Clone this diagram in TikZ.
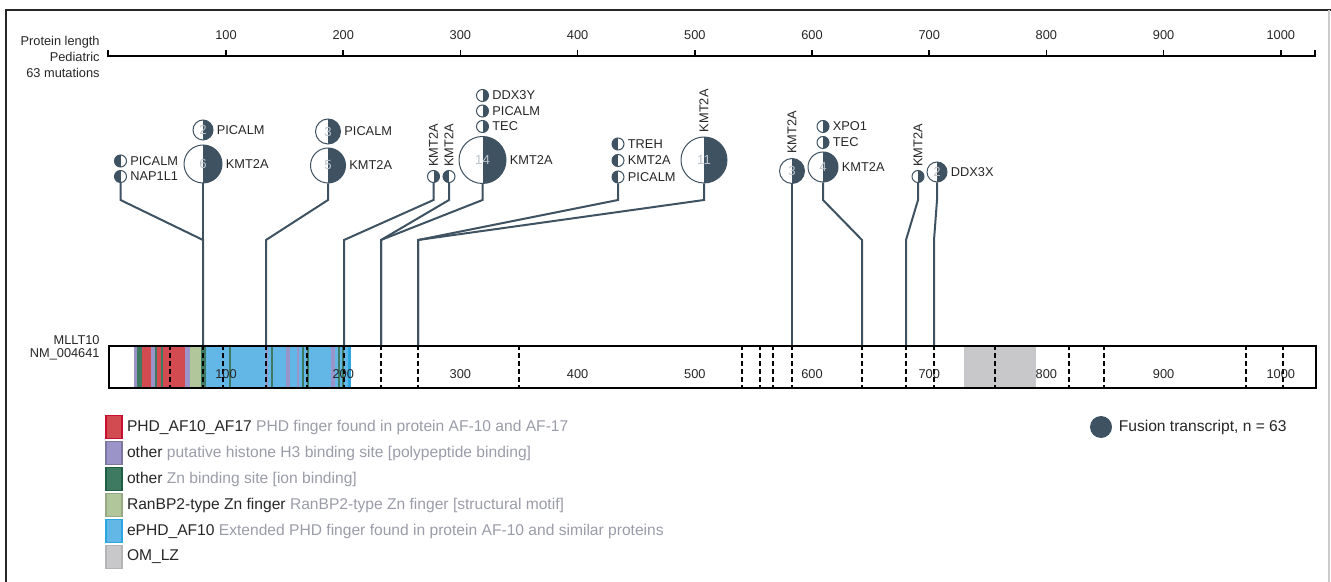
\documentclass[tikz,border=0pt]{standalone}
\usepackage{fontspec}
\setmainfont{Liberation Sans}
\usetikzlibrary{positioning}

\definecolor{pizarra}{HTML}{3F5262}
\definecolor{numgris}{HTML}{BCC3CA}
\definecolor{textogris}{HTML}{9A9CA8}
\definecolor{rojo}{HTML}{D14B50}
\definecolor{rojoborde}{HTML}{C8102E}
\definecolor{lila}{HTML}{9B94C8}
\definecolor{verde}{HTML}{3E7A62}
\definecolor{verdeborde}{HTML}{1E5E45}
\definecolor{oliva}{HTML}{B2C69B}
\definecolor{celeste}{HTML}{63B7E6}
\definecolor{celesteborde}{HTML}{2BA6E0}
\definecolor{gris}{HTML}{C8C8CA}

\begin{document}
\begin{tikzpicture}[
        x=0.5pt, y=-0.5pt,
        every node/.style={
            inner sep=0pt,
            text=black!85,
            font=\fontsize{6.4}{7}\selectfont
        },
        every label/.style={text=black!85},
        label distance=1.5pt,
        mdr/.style={circle, draw=pizarra, line width=0.5pt, fill=white,
            path picture={\fill[pizarra] (path picture bounding box.south)
                rectangle (path picture bounding box.north east);}},
        mdl/.style={circle, draw=pizarra, line width=0.5pt, fill=white,
            path picture={\fill[pizarra] (path picture bounding box.south west)
                rectangle (path picture bounding box.north);}},
        chico/.style={minimum size=6pt},
        numero/.style={text=numgris, font=\fontsize{6.6}{7}\selectfont},
        vtexto/.style={rotate=90, anchor=west},
        tallo/.style={draw=pizarra, line width=1pt},
        corte/.style={dash pattern=on 2.5pt off 1.5pt, line width=0.7pt},
        caja/.style={minimum width=8pt, minimum height=11.5pt, line width=0.6pt},
        leyenda/.style={font=\fontsize{7.8}{9}\selectfont}
    ]
    \useasboundingbox (0,0) rectangle (1331,582);

    % Marco
    \draw[line width=1pt, black!85] (6,582) -- (6,10) -- (1331,10);
    \draw[line width=0.6pt, black!20] (1329,10) -- (1329,582);

    % Eje
    \node[anchor=east] (plen) at (100,42) {Protein length};
    \node[anchor=east] (pedi) at (100,57) {Pediatric};
    \node[anchor=east] (nmut) at (100,73) {63 mutations};
    \draw[line width=0.8pt] (108,50) -- (108,56) -- (1315,56) -- (1315,50);
    \foreach \p in {100,200,...,1000} {
        \draw[line width=0.8pt] ({108.8+1.172*\p},56) -- ++(0,-6);
        \node (r\p) at ({108.8+1.172*\p},35) {\p};
    }

    % Proteina
    \node[anchor=east] (gen) at (100,340) {MLLT10};
    \node[anchor=east] (nm) at (100,354) {NM\_004641};
    \fill[white] (108,345) rectangle (1315,387);
    \fill[celeste] (205,345) rectangle (350,387);
    \fill[celesteborde] (348,345) rectangle (351,387);
    \fill[gris] (964,345) rectangle (1036,387);
    \foreach \a/\b/\c in {134/137/lila, 137/142/verde, 142/151/rojo, 151/155/lila,
        155/157/verde, 157/161/rojo, 161/163/verde, 163/185/rojo,
        185/190/lila, 190/201/oliva, 201/203/verde, 203/206/verde, 229/231/verde,
        266/268/lila, 271/273/verde, 286/290/lila, 297/299/lila, 302/304/verde,
        307/309/verde, 331/335/lila, 338/340/verde, 342/344/verde}
        \fill[\c] (\a,345) rectangle (\b,387);
    \foreach \x in {170,203,223,266,307,344,381,418,519,742,760,773,792,862,906,934,995,1069,1104,1246,1283}
        \draw[corte] (\x,345) -- (\x,387);
    \foreach \p in {100,200,...,1000}
        \node (e\p) at ({108.8+1.172*\p},374) {\p};
    \node[draw, line width=1.2pt, minimum width=603.5pt, minimum height=21pt,
        anchor=north west] (barra) at (108,345) {};

    % Puntos de corte
    \coordinate (codo) at (0,200);
    \coordinate (pie) at (0,240);
    \foreach \x in {203,266,344,381,418,792,862,906,934}
        \coordinate (b\x) at (\x,345);

    % Fusiones
    \node[mdl, chico, label=right:PICALM] (pic120) at (120.5,161) {};
    \node[mdl, chico, label=right:NAP1L1] (nap120) at (120.5,176.5) {};
    \node[mdr, numero, minimum size=10pt, label=right:PICALM] (pic203) at (203,130) {2};
    \node[mdr, numero, minimum size=19pt, label=right:KMT2A] (kmt203) at (203,164) {6};
    \node[mdr, numero, minimum size=12.5pt, label=right:PICALM] (pic328) at (328,131.5) {3};
    \node[mdr, numero, minimum size=17.5pt, label=right:KMT2A] (kmt328) at (328,165.5) {5};
    \node[mdr, chico] (kmt433) at (433.5,176.5) {};
    \node[vtexto] (v433) at ([yshift=1.5pt]kmt433.north) {KMT2A};
    \node[mdl, chico] (kmt449) at (449,176.5) {};
    \node[vtexto] (v449) at ([yshift=1.5pt]kmt449.north) {KMT2A};
    \node[mdr, chico, label=right:DDX3Y] (ddx482) at (482.5,95.5) {};
    \node[mdr, chico, label=right:PICALM] (pic482) at (482.5,111) {};
    \node[mdr, chico, label=right:TEC] (tec482) at (482.5,126.5) {};
    \node[mdr, numero, minimum size=23.5pt, label=right:KMT2A] (kmt482) at (482.5,160) {14};
    \node[mdl, chico, label=right:TREH] (tre618) at (618,144) {};
    \node[mdl, chico, label=right:KMT2A] (kmt618) at (618,160.5) {};
    \node[mdl, chico, label=right:PICALM] (pic618) at (618,177) {};
    \node[mdr, numero, minimum size=23pt] (kmt704) at (704,160) {11};
    \node[vtexto] (v704) at ([yshift=2pt]kmt704.north) {KMT2A};
    \node[mdr, numero, minimum size=12.5pt] (kmt792) at (792,171) {3};
    \node[vtexto] (v792) at ([yshift=2pt]kmt792.north) {KMT2A};
    \node[mdr, chico, label=right:XPO1] (xpo823) at (823,126.5) {};
    \node[mdr, chico, label=right:TEC] (tec823) at (823,142.5) {};
    \node[mdr, numero, minimum size=15pt, label=right:KMT2A] (kmt823) at (823,167) {4};
    \node[mdr, chico] (kmt918) at (918,176.5) {};
    \node[vtexto] (v918) at ([yshift=1.5pt]kmt918.north) {KMT2A};
    \node[mdr, numero, minimum size=10pt, label=right:DDX3X] (ddx937) at (937,172) {2};

    % Tallos
    \draw[tallo] (nap120.south) -- (nap120.south |- codo) -- (b203 |- pie) -- (b203);
    \draw[tallo] (kmt203.south) -- (b203);
    \draw[tallo] (kmt328.south) -- (kmt328.south |- codo) -- (b266 |- pie) -- (b266);
    \draw[tallo] (kmt433.south) -- (kmt433.south |- codo) -- (b344 |- pie) -- (b344);
    \draw[tallo] (kmt449.south) -- (kmt449.south |- codo) -- (b381 |- pie) -- (b381);
    \draw[tallo] (kmt482.south) -- (kmt482.south |- codo) -- (b381 |- pie) -- (b381);
    \draw[tallo] (pic618.south) -- (pic618.south |- codo) -- (b418 |- pie) -- (b418);
    \draw[tallo] (kmt704.south) -- (kmt704.south |- codo) -- (b418 |- pie) -- (b418);
    \draw[tallo] (kmt792.south) -- (b792);
    \draw[tallo] (kmt823.south) -- (kmt823.south |- codo) -- (b862 |- pie) -- (b862);
    \draw[tallo] (kmt918.south) -- (kmt918.south |- codo) -- (b906 |- pie) -- (b906);
    \draw[tallo] (ddx937.south) -- (ddx937.south |- codo) -- (b934 |- pie) -- (b934);

    % Leyenda
    \node[caja, fill=rojo, draw=rojoborde] (l1) at (114,427) {};
    \node[caja, fill=lila, draw=lila!80!black] (l2) at (114,453) {};
    \node[caja, fill=verde, draw=verdeborde] (l3) at (114,479) {};
    \node[caja, fill=oliva, draw=oliva!85!black] (l4) at (114,505) {};
    \node[caja, fill=celeste, draw=celesteborde] (l5) at (114,531) {};
    \node[caja, fill=gris, draw=gris!90!black] (l6) at (114,557) {};
    \node[leyenda, right=2pt of l1] (t1) {PHD\_AF10\_AF17 \textcolor{textogris}{PHD finger found in protein AF-10 and AF-17}};
    \node[leyenda, right=2pt of l2] (t2) {other \textcolor{textogris}{putative histone H3 binding site [polypeptide binding]}};
    \node[leyenda, right=2pt of l3] (t3) {other \textcolor{textogris}{Zn binding site [ion binding]}};
    \node[leyenda, right=2pt of l4] (t4) {RanBP2-type Zn finger \textcolor{textogris}{RanBP2-type Zn finger [structural motif]}};
    \node[leyenda, right=2pt of l5] (t5) {ePHD\_AF10 \textcolor{textogris}{Extended PHD finger found in protein AF-10 and similar proteins}};
    \node[leyenda, right=2pt of l6] (t6) {OM\_LZ};
    \node[circle, fill=pizarra, minimum size=11pt] (fus) at (1101,427) {};
    \node[leyenda, right=3pt of fus] (tfus) {Fusion transcript, n = 63};

\end{tikzpicture}
\end{document}
